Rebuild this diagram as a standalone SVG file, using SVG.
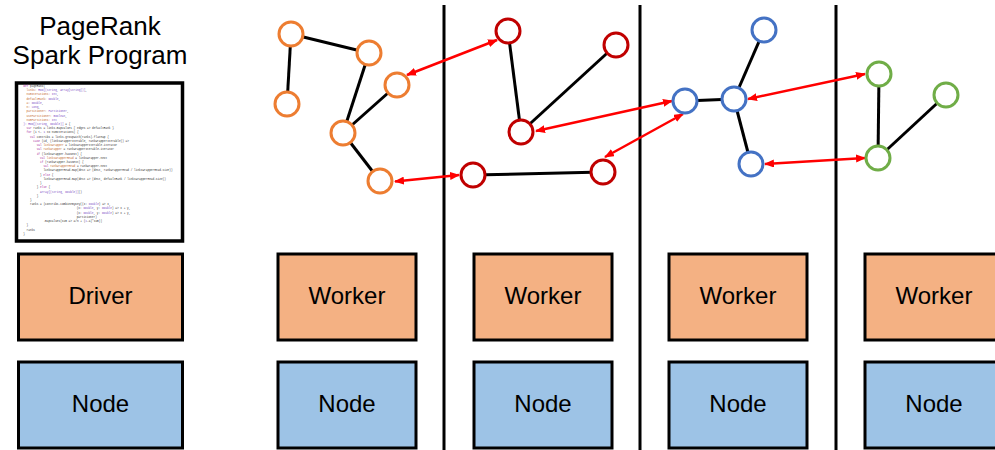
<svg xmlns="http://www.w3.org/2000/svg" width="995" height="450" viewBox="0 0 995 450">
<style>
.title{font-family:"Liberation Sans",Arial,sans-serif;font-size:26px;fill:#000;text-anchor:middle}
.lbl{font-family:"Liberation Sans",Arial,sans-serif;font-size:24px;fill:#000;text-anchor:middle}
.box{stroke:#000;stroke-width:3}
.drv{fill:#F4B183}
.nod{fill:#9DC3E6}
.sep{stroke:#000;stroke-width:3}
.edge{stroke:#000;stroke-width:3;fill:none}
.arr{stroke:#FF0000;stroke-width:2.5;fill:none;marker-start:url(#ah);marker-end:url(#ah)}
.v{fill:#fff;stroke-width:3}
.o{stroke:#ED7D31}.r{stroke:#C00000}.b{stroke:#4472C4}.g{stroke:#70AD47}
.code{font-family:"Liberation Mono","Courier New",monospace;font-size:2.8px;fill:#333}
.k{fill:#A52A9A}.t{fill:#7B4BC4}.p{fill:#C0652A}
</style>
<defs>
<marker id="ah" viewBox="0 0 10 8" refX="9" refY="4" markerWidth="10" markerHeight="8" markerUnits="userSpaceOnUse" orient="auto-start-reverse">
<path d="M0,0 L10,4 L0,8 z" fill="#FF0000"/>
</marker>
</defs>
<rect width="995" height="450" fill="#fff"/>

<g id="title">
<text class="title" x="100" y="34.5">PageRank</text>
<text class="title" x="100" y="63.5">Spark Program</text>
</g>

<g id="program">
<rect x="16.5" y="83" width="166" height="158" fill="#fff" stroke="#000" stroke-width="3.5"/>
<g class="code">
<text x="23.3" y="87"><tspan class="k">def</tspan> pageRank(</text>
<text x="26.6" y="91.2"><tspan class="p">links:</tspan> <tspan class="t">RDD[(String, Array[String])]</tspan>,</text>
<text x="26.6" y="95.4"><tspan class="p">numIterations:</tspan> <tspan class="t">Int</tspan>,</text>
<text x="26.6" y="99.7"><tspan class="p">defaultRank:</tspan> <tspan class="t">Double</tspan>,</text>
<text x="26.6" y="103.9"><tspan class="p">a:</tspan> <tspan class="t">Double</tspan>,</text>
<text x="26.6" y="108.1"><tspan class="p">n:</tspan> <tspan class="t">Long</tspan>,</text>
<text x="26.6" y="112.3"><tspan class="p">partitioner:</tspan> <tspan class="t">Partitioner</tspan>,</text>
<text x="26.6" y="116.5"><tspan class="p">usePartitioner:</tspan> <tspan class="t">Boolean</tspan>,</text>
<text x="26.6" y="120.8"><tspan class="p">numPartitions:</tspan> <tspan class="t">Int</tspan></text>
<text x="23.3" y="125"><tspan class="t">): RDD[(String, Double)]</tspan> = {</text>
<text x="26.6" y="129.2"><tspan class="k">var</tspan> ranks = links.mapValues { edges =&gt; defaultRank }</text>
<text x="26.6" y="133.4"><tspan class="k">for</tspan> (i &lt;- <tspan class="t">1</tspan> to numIterations) {</text>
<text x="30" y="137.6"><tspan class="k">val</tspan> contribs = links.groupWith(ranks).flatMap {</text>
<text x="33.3" y="141.9"><tspan class="k">case</tspan> (id, (linksWrapperIterable, rankWrapperIterable)) =&gt;</text>
<text x="36.7" y="146.1"><tspan class="k">val</tspan> <tspan class="p">linksWrapper</tspan> = linksWrapperIterable.iterator</text>
<text x="36.7" y="150.3"><tspan class="k">val</tspan> <tspan class="p">rankWrapper</tspan> = rankWrapperIterable.iterator</text>
<text x="36.7" y="154.5"><tspan class="k">if</tspan> (linksWrapper.hasNext) {</text>
<text x="40" y="158.7"><tspan class="k">val</tspan> <tspan class="p">linksWrapperHead</tspan> = linksWrapper.next</text>
<text x="40" y="163"><tspan class="k">if</tspan> (rankWrapper.hasNext) {</text>
<text x="43.4" y="167.2"><tspan class="k">val</tspan> <tspan class="p">rankWrapperHead</tspan> = rankWrapper.next</text>
<text x="43.4" y="171.4">linksWrapperHead.map(dest =&gt; (dest, rankWrapperHead / linksWrapperHead.size))</text>
<text x="40" y="175.6">} <tspan class="k">else</tspan> {</text>
<text x="43.4" y="179.8">linksWrapperHead.map(dest =&gt; (dest, defaultRank / linksWrapperHead.size))</text>
<text x="40" y="184.1">}</text>
<text x="36.7" y="188.3">} <tspan class="k">else</tspan> {</text>
<text x="40" y="192.5"><tspan class="t">Array[(String, Double)]</tspan>()</text>
<text x="36.7" y="196.7">}</text>
<text x="30" y="200.9">}</text>
<text x="30" y="205.2">ranks = (contribs.combineByKey((x: <tspan class="t">Double</tspan>) =&gt; x,</text>
<text x="76.7" y="209.4">(x: <tspan class="t">Double</tspan>, y: <tspan class="t">Double</tspan>) =&gt; x + y,</text>
<text x="76.7" y="213.6">(x: <tspan class="t">Double</tspan>, y: <tspan class="t">Double</tspan>) =&gt; x + y,</text>
<text x="76.7" y="217.8">partitioner)</text>
<text x="43.4" y="222">.mapValues(sum =&gt; a/n + (<tspan class="t">1</tspan>-a)*sum))</text>
<text x="26.6" y="226.3">}</text>
<text x="26.6" y="230.5">ranks</text>
<text x="23.3" y="234.7">}</text>
</g>
</g>

<g id="separators">
<line class="sep" x1="444" y1="5" x2="444" y2="450"/>
<line class="sep" x1="640" y1="5" x2="640" y2="450"/>
<line class="sep" x1="836" y1="5" x2="836" y2="450"/>
</g>

<g id="driver"><rect class="box drv" x="18.5" y="254" width="164" height="86"/><text class="lbl" x="100.5" y="304">Driver</text></g>
<g id="driver-node"><rect class="box nod" x="18.5" y="362" width="164" height="86"/><text class="lbl" x="100.5" y="412">Node</text></g>
<g id="worker1"><rect class="box drv" x="278" y="254" width="138" height="86"/><text class="lbl" x="347" y="304">Worker</text></g>
<g id="node1"><rect class="box nod" x="278" y="362" width="138" height="86"/><text class="lbl" x="347" y="412">Node</text></g>
<g id="worker2"><rect class="box drv" x="474" y="254" width="138" height="86"/><text class="lbl" x="543" y="304">Worker</text></g>
<g id="node2"><rect class="box nod" x="474" y="362" width="138" height="86"/><text class="lbl" x="543" y="412">Node</text></g>
<g id="worker3"><rect class="box drv" x="669" y="254" width="138" height="86"/><text class="lbl" x="738" y="304">Worker</text></g>
<g id="node3"><rect class="box nod" x="669" y="362" width="138" height="86"/><text class="lbl" x="738" y="412">Node</text></g>
<g id="worker4"><rect class="box drv" x="865" y="254" width="138" height="86"/><text class="lbl" x="934" y="304">Worker</text></g>
<g id="node4"><rect class="box nod" x="865" y="362" width="138" height="86"/><text class="lbl" x="934" y="412">Node</text></g>

<g id="connectors">
<line class="edge" x1="291" y1="34" x2="287" y2="104"/>
<line class="edge" x1="291" y1="34" x2="369" y2="53"/>
<line class="edge" x1="369" y1="53" x2="343" y2="133"/>
<line class="edge" x1="397" y1="85" x2="343" y2="133"/>
<line class="edge" x1="343" y1="133" x2="380" y2="181"/>
<line class="edge" x1="508" y1="31" x2="521" y2="132"/>
<line class="edge" x1="616" y1="45" x2="521" y2="132"/>
<line class="edge" x1="473" y1="175" x2="603" y2="172"/>
<line class="edge" x1="764" y1="30" x2="734" y2="99"/>
<line class="edge" x1="734" y1="99" x2="685" y2="101"/>
<line class="edge" x1="734" y1="99" x2="751" y2="164"/>
<line class="edge" x1="879" y1="74" x2="878" y2="158"/>
<line class="edge" x1="946" y1="95" x2="878" y2="158"/>
<path class="arr" d="M407,75 L497,40"/>
<path class="arr" d="M395,181.5 L459,175"/>
<path class="arr" d="M536,131 L672,101"/>
<path class="arr" d="M605,157 L683,114"/>
<path class="arr" d="M748,99 L865,74"/>
<path class="arr" d="M765,164 L865,158"/>
</g>

<g id="vA"><circle class="v o" cx="291" cy="34" r="12"/></g>
<g id="vB"><circle class="v o" cx="287" cy="104" r="12"/></g>
<g id="vC"><circle class="v o" cx="369" cy="53" r="12"/></g>
<g id="vD"><circle class="v o" cx="397" cy="85" r="12"/></g>
<g id="vE"><circle class="v o" cx="343" cy="133" r="12"/></g>
<g id="vF"><circle class="v o" cx="380" cy="181" r="12"/></g>
<g id="vG"><circle class="v r" cx="508" cy="31" r="12"/></g>
<g id="vH"><circle class="v r" cx="616" cy="45" r="12"/></g>
<g id="vI"><circle class="v r" cx="521" cy="132" r="12"/></g>
<g id="vJ"><circle class="v r" cx="473" cy="175" r="12"/></g>
<g id="vK"><circle class="v r" cx="603" cy="172" r="12"/></g>
<g id="vL"><circle class="v b" cx="764" cy="30" r="12"/></g>
<g id="vM"><circle class="v b" cx="734" cy="99" r="12"/></g>
<g id="vN"><circle class="v b" cx="685" cy="101" r="12"/></g>
<g id="vO"><circle class="v b" cx="751" cy="164" r="12"/></g>
<g id="vP"><circle class="v g" cx="879" cy="74" r="12"/></g>
<g id="vQ"><circle class="v g" cx="946" cy="95" r="12"/></g>
<g id="vR"><circle class="v g" cx="878" cy="158" r="12"/></g>
</svg>
